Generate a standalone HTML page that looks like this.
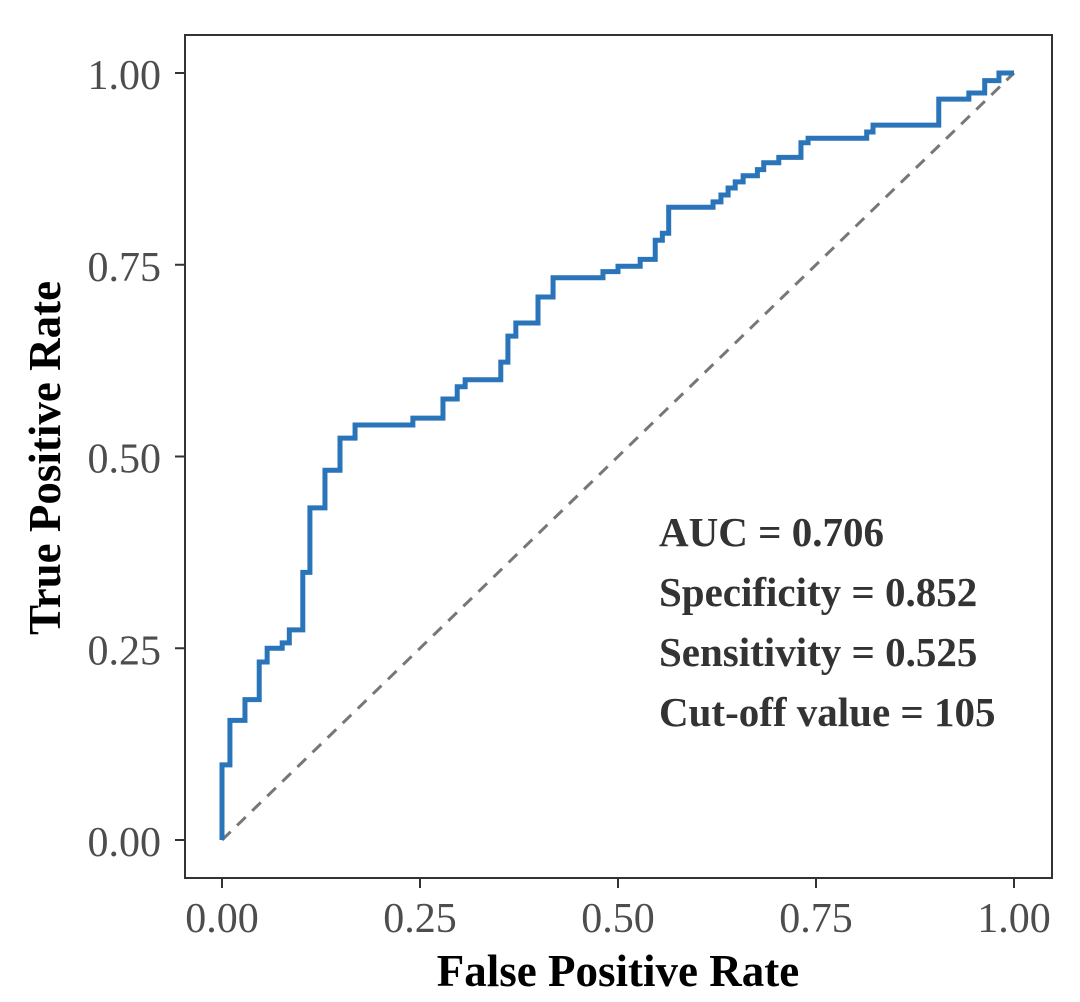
<!DOCTYPE html>
<html><head><meta charset="utf-8"><style>
html,body{margin:0;padding:0;background:#fff;}
svg text{font-family:"Liberation Serif",serif;}
</style></head><body>
<svg id="chart" width="1080" height="997" viewBox="0 0 1080 997" xmlns="http://www.w3.org/2000/svg">
<rect x="185" y="35" width="867" height="843" fill="#fff" stroke="#333" stroke-width="2"/>
<g id="axes"></g>
<line id="diag" stroke="#777" stroke-width="3" stroke-dasharray="12,9"/>
<path id="roc" fill="none" stroke="#2a74b9" stroke-width="5" stroke-linejoin="miter"/>
<g font-weight="bold" font-size="41" fill="#333">
<text x="659" y="546">AUC = 0.706</text>
<text x="659" y="606">Specificity = 0.852</text>
<text x="659" y="666">Sensitivity = 0.525</text>
<text x="659" y="726">Cut-off value = 105</text>
</g>
<text x="618" y="986" text-anchor="middle" font-weight="bold" font-size="45" fill="#000">False Positive Rate</text>
<text transform="translate(60,458) rotate(-90)" text-anchor="middle" font-weight="bold" font-size="45" fill="#000">True Positive Rate</text>
</svg>
<script>
const fpr=[0,0,0.010,0.029,0.047,0.057,0.076,0.085,0.102,0.111,0.130,0.149,0.168,0.241,0.279,0.297,0.307,0.352,0.361,0.371,0.399,0.418,0.481,0.5,0.528,0.547,0.556,0.564,0.620,0.630,0.639,0.648,0.658,0.676,0.684,0.703,0.731,0.740,0.814,0.822,0.905,0.943,0.963,0.981,1];
const tpr=[0,0.098,0.156,0.183,0.232,0.250,0.257,0.274,0.349,0.433,0.482,0.524,0.541,0.550,0.575,0.591,0.600,0.623,0.657,0.674,0.708,0.733,0.741,0.748,0.757,0.782,0.791,0.825,0.832,0.841,0.850,0.858,0.866,0.874,0.883,0.890,0.909,0.915,0.923,0.932,0.966,0.974,0.990,1,1];
const ticks=[0,0.25,0.5,0.75,1];
const tickLabels=["0.00","0.25","0.50","0.75","1.00"];
const X=v=>222+v*792, Y=v=>840-v*767;
const NS="http://www.w3.org/2000/svg";
const ax=document.getElementById('axes');
function mk(tag,attrs,parent){const e=document.createElementNS(NS,tag);for(const k in attrs)e.setAttribute(k,attrs[k]);parent.appendChild(e);return e;}
ticks.forEach((t,i)=>{
 const a=mk('line',{x1:X(t),x2:X(t),y1:878,y2:888,stroke:'#333','stroke-width':2},ax);
 
 
 const b=mk('text',{x:X(t),y:932,'text-anchor':'middle','font-size':42,fill:'#4d4d4d'},ax);
 b.textContent=tickLabels[i];
 
 
 const c=mk('line',{x1:175,x2:185,y1:Y(t),y2:Y(t),stroke:'#333','stroke-width':2},ax);
 
 
 const d=mk('text',{x:161,y:Y(t)+16,'text-anchor':'end','font-size':42,fill:'#4d4d4d'},ax);
 d.textContent=tickLabels[i];
 
 
});
const dg=document.getElementById('diag');
dg.setAttribute('x1',X(0));dg.setAttribute('y1',Y(0));dg.setAttribute('x2',X(1));dg.setAttribute('y2',Y(1));
let p='M'+X(fpr[0])+','+Y(tpr[0]);
for(let i=1;i<fpr.length;i++){p+=' H'+X(fpr[i])+' V'+Y(tpr[i]);}
document.getElementById('roc').setAttribute('d',p);
</script>
</body></html>
